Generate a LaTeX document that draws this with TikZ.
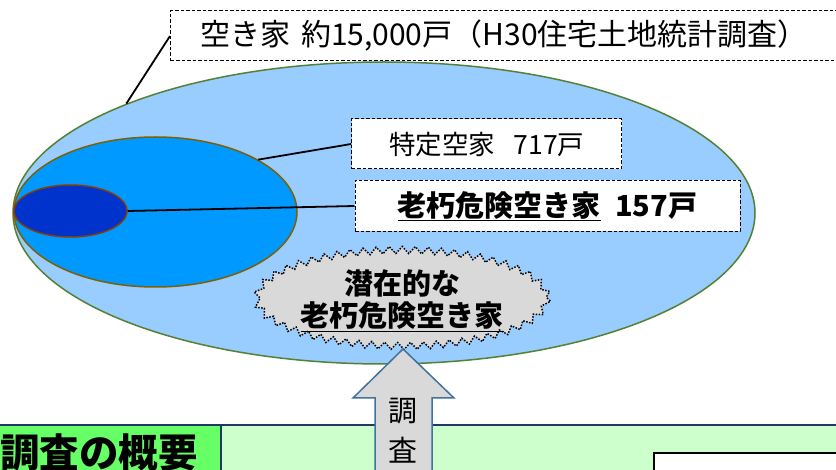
\documentclass[tikz,border=0pt]{standalone}
\usepackage{fontspec}
\setmainfont{Noto Sans CJK JP}
\usetikzlibrary{shapes.geometric,decorations.pathmorphing}
\definecolor{bigfill}{HTML}{99CCFF}
\definecolor{bigline}{HTML}{548235}
\definecolor{midfill}{HTML}{0099FF}
\definecolor{midline}{HTML}{7F6000}
\definecolor{smallfill}{HTML}{0033CC}
\definecolor{smallline}{HTML}{843C0C}
\definecolor{grayfill}{HTML}{D9D9D9}
\definecolor{arrowline}{HTML}{41719C}
\definecolor{panelfill}{HTML}{CCFFCC}
\definecolor{panelline}{HTML}{1F3864}
\definecolor{titlefill}{HTML}{66FF66}
\begin{document}
\begin{tikzpicture}[x=1pt,y=-1pt,
  ell/.style={ellipse, inner sep=0pt, line width=1.5pt},
  dbox/.style={draw=black, fill=white, line width=1pt, dash pattern=on 3.5pt off 2pt, inner sep=0pt},
  conn/.style={draw=black, line width=1.8pt},
  cloudline/.style={draw=black, fill=grayfill, line width=1.5pt, dash pattern=on 1.5pt off 1.5pt,
    decorate, decoration={zigzag, segment length=13pt, amplitude=3.5pt}},
]
\useasboundingbox (0,0) rectangle (836,470);
\clip (0,0) rectangle (836,470);
\fill[white] (0,0) rectangle (836,470);
% ellipses
\node[ell, draw=bigline, fill=bigfill, minimum width=742pt, minimum height=302pt] (big) at (384,213) {};
\node[ell, draw=midline, fill=midfill, minimum width=283pt, minimum height=150pt] (mid) at (155.5,212) {};
\node[ell, draw=smallline, fill=smallfill, minimum width=113pt, minimum height=52pt] (small) at (70.5,211) {};
% cloud
\path[cloudline] (402,298) ellipse (145 and 48);
\node[align=center, font=\bfseries\fontsize{29}{32}\selectfont] (cloud) at (402,301) {潜在的な\\\underline{老朽危険空き家}};
% boxes
\node[dbox, anchor=west, text width=700pt, inner xsep=30pt, align=left, minimum height=50pt,
  font=\fontsize{30}{32}\selectfont] (topbox) at (170,36) {空き家\hspace{0.35em}約15,000戸（H30住宅土地統計調査）};
\node[dbox, minimum width=270pt, minimum height=50pt, font=\fontsize{26.5}{28}\selectfont] (tokutei) at (486.7,144) {特定空家\hspace{0.7em}717戸};
\node[dbox, minimum width=385pt, minimum height=51pt, font=\bfseries\fontsize{29}{30}\selectfont] (roukyu) at (547.5,206) {\underline{老朽危険空き家}\hspace{0.5em}157戸};
% connectors
\draw[conn] (topbox.west) -- (big.157);
\draw[conn] (tokutei.west) -- (mid.27);
\draw[conn] (roukyu.west) -- (small.east);
% bottom panel
\fill[panelfill] (0,425) rectangle (840,480);
\draw[panelline, line width=2pt] (0,425) -- (840,425);
\draw[panelline, line width=1.5pt, fill=titlefill] (-2,425) rectangle (221,480);
\node[font=\bfseries\fontsize{39.5}{40}\selectfont] (title) at (99,453) {調査の概要};
\draw[black, line width=1.5pt, fill=white] (654,453) rectangle (850,480);
% arrow
\draw[arrowline, line width=1.5pt, fill=grayfill, line join=miter]
  (403,349) -- (454,398) -- (432,398) -- (432,480) -- (375,480) -- (375,398) -- (353,398) -- cycle;
\node[align=center, font=\fontsize{29}{40}\selectfont] (chosa) at (403,431) {調\\査};
\end{tikzpicture}
\end{document}
